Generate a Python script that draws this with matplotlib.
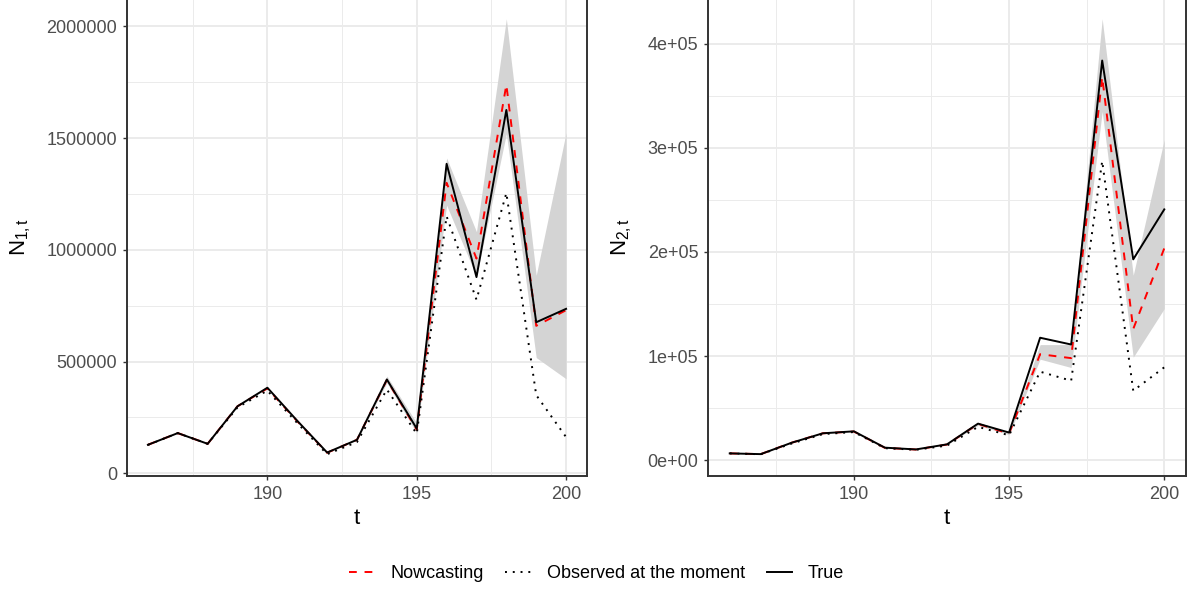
import matplotlib
matplotlib.use('Agg')
import matplotlib.pyplot as plt
from matplotlib.lines import Line2D
from matplotlib.ticker import FixedLocator, FixedFormatter

plt.rcParams['font.family'] = ['Liberation Sans', 'DejaVu Sans']
plt.rcParams['mathtext.fontset'] = 'custom'
plt.rcParams['mathtext.rm'] = 'Liberation Sans'
plt.rcParams['mathtext.it'] = 'Liberation Sans'

# ---------------- data ----------------
t = list(range(186, 201))

n1_true = [127500, 180000, 132000, 300000, 383000, 235000, 93000, 150000,
           420000, 200000, 1385000, 878000, 1626000, 676000, 736000]
n1_now = [127500, 180000, 132000, 300000, 380000, 233000, 92000, 150000,
          418000, 195000, 1300000, 961000, 1739000, 660000, 730000]
n1_obs = [127000, 180000, 132000, 295000, 370000, 225000, 85400, 140000,
          375000, 177000, 1150000, 777000, 1254000, 350000, 162000]
n1_lo = [127500, 180000, 132000, 300000, 380000, 233000, 92000, 150000,
         405000, 180000, 1200000, 880000, 1520000, 518000, 423000]
n1_hi = [127500, 180000, 132000, 300000, 380000, 233000, 92000, 150000,
         435000, 225000, 1411000, 1081000, 2034000, 886000, 1524000]

n2_true = [6500, 5800, 16800, 25800, 27700, 12000, 10300, 15200,
           35100, 26500, 117600, 111100, 383900, 192900, 240900]
n2_now = [6500, 5800, 16800, 25800, 27500, 11800, 10200, 15000,
          34800, 25500, 101800, 98000, 368000, 126000, 203500]
n2_obs = [6500, 5700, 16000, 25000, 27000, 11500, 10000, 14000,
          32000, 23900, 85000, 76300, 287300, 66700, 89200]
n2_lo = [6500, 5800, 16800, 25800, 27500, 11800, 10200, 15000,
         33500, 24500, 97000, 89000, 335000, 98900, 145600]
n2_hi = [6500, 5800, 16800, 25800, 27500, 11800, 10200, 15000,
         36000, 27000, 111000, 111000, 424000, 177700, 308000]

x_ticks = [190, 195, 200]
x_minor = [187.5, 192.5, 197.5]
y1_ticks = [0, 500000, 1000000, 1500000, 2000000]
y1_labels = ['0', '500000', '1000000', '1500000', '2000000']
y1_minor = [250000, 750000, 1250000, 1750000]
y2_ticks = [0, 100000, 200000, 300000, 400000]
y2_labels = ['0e+00', '1e+05', '2e+05', '3e+05', '4e+05']
y2_minor = [50000, 150000, 250000, 350000]

labels = ['Nowcasting', 'Observed at the moment', 'True']

# ---------------- figure ----------------
W, H = 1193, 589
fig = plt.figure(figsize=(W / 100, H / 100), dpi=100)

bottom = 1 - 476 / H
top = 1 + 3 / H
ax1 = fig.add_axes([127 / W, bottom, (587 - 127) / W, top - bottom])
ax2 = fig.add_axes([708 / W, bottom, (1186 - 708) / W, top - bottom])

border = '#333333'
grid_c = '#EBEBEB'
tick_c = '#4D4D4D'
ribbon_c = '#D4D4D4'
lw = 1.4


def panel(ax, lo, hi, now, obs, tru, yt, yl, ym, ylabel, labx):
    ax.fill_between(t, lo, hi, color=ribbon_c, linewidth=0, zorder=2)
    ax.plot(t, now, color='#FF0000', lw=lw, linestyle=(0, (4, 4)), zorder=3)
    ax.plot(t, obs, color='black', lw=lw, linestyle=(0, (1, 3)), zorder=3)
    ax.plot(t, tru, color='black', lw=lw, zorder=4)

    xmin, xmax = min(t), max(t)
    xr = xmax - xmin
    ax.set_xlim(xmin - 0.05 * xr, xmax + 0.05 * xr)
    allv = lo + hi + now + obs + tru
    ymin, ymax = min(allv), max(allv)
    yr = ymax - ymin
    ax.set_ylim(ymin - 0.05 * yr, ymax + 0.05 * yr)

    ax.xaxis.set_major_locator(FixedLocator(x_ticks))
    ax.xaxis.set_minor_locator(FixedLocator(x_minor))
    ax.yaxis.set_major_locator(FixedLocator(yt))
    ax.yaxis.set_major_formatter(FixedFormatter(yl))
    ax.yaxis.set_minor_locator(FixedLocator(ym))

    ax.grid(which='major', color=grid_c, lw=1.4, zorder=0)
    ax.grid(which='minor', color=grid_c, lw=0.7, zorder=0)
    ax.set_axisbelow(True)

    ax.tick_params(which='major', length=3.0, width=1.0, color=border,
                   labelsize=13, labelcolor=tick_c, pad=4)
    ax.tick_params(which='minor', length=0)
    for s in ax.spines.values():
        s.set_color(border)
        s.set_linewidth(1.4)

    ax.set_xlabel('t', fontsize=16, labelpad=4)
    ax.set_ylabel(ylabel, fontsize=16)
    ax.yaxis.set_label_coords(labx, 0.5)


panel(ax1, n1_lo, n1_hi, n1_now, n1_obs, n1_true, y1_ticks, y1_labels,
      y1_minor, r'$\mathregular{N_{1,t}}$', -0.205)
panel(ax2, n2_lo, n2_hi, n2_now, n2_obs, n2_true, y2_ticks, y2_labels,
      y2_minor, r'$\mathregular{N_{2,t}}$', -0.155)

handles = [
    Line2D([], [], color='#FF0000', lw=lw, linestyle=(0, (4, 4))),
    Line2D([], [], color='black', lw=lw, linestyle=(0, (1, 3))),
    Line2D([], [], color='black', lw=lw),
]
fig.legend(handles, labels, loc='center', bbox_to_anchor=(0.5, 1 - 574 / H),
           ncol=3, frameon=False, fontsize=13, handlelength=1.4,
           handletextpad=0.9, columnspacing=1.2)

fig.savefig('out.png', dpi=100)
